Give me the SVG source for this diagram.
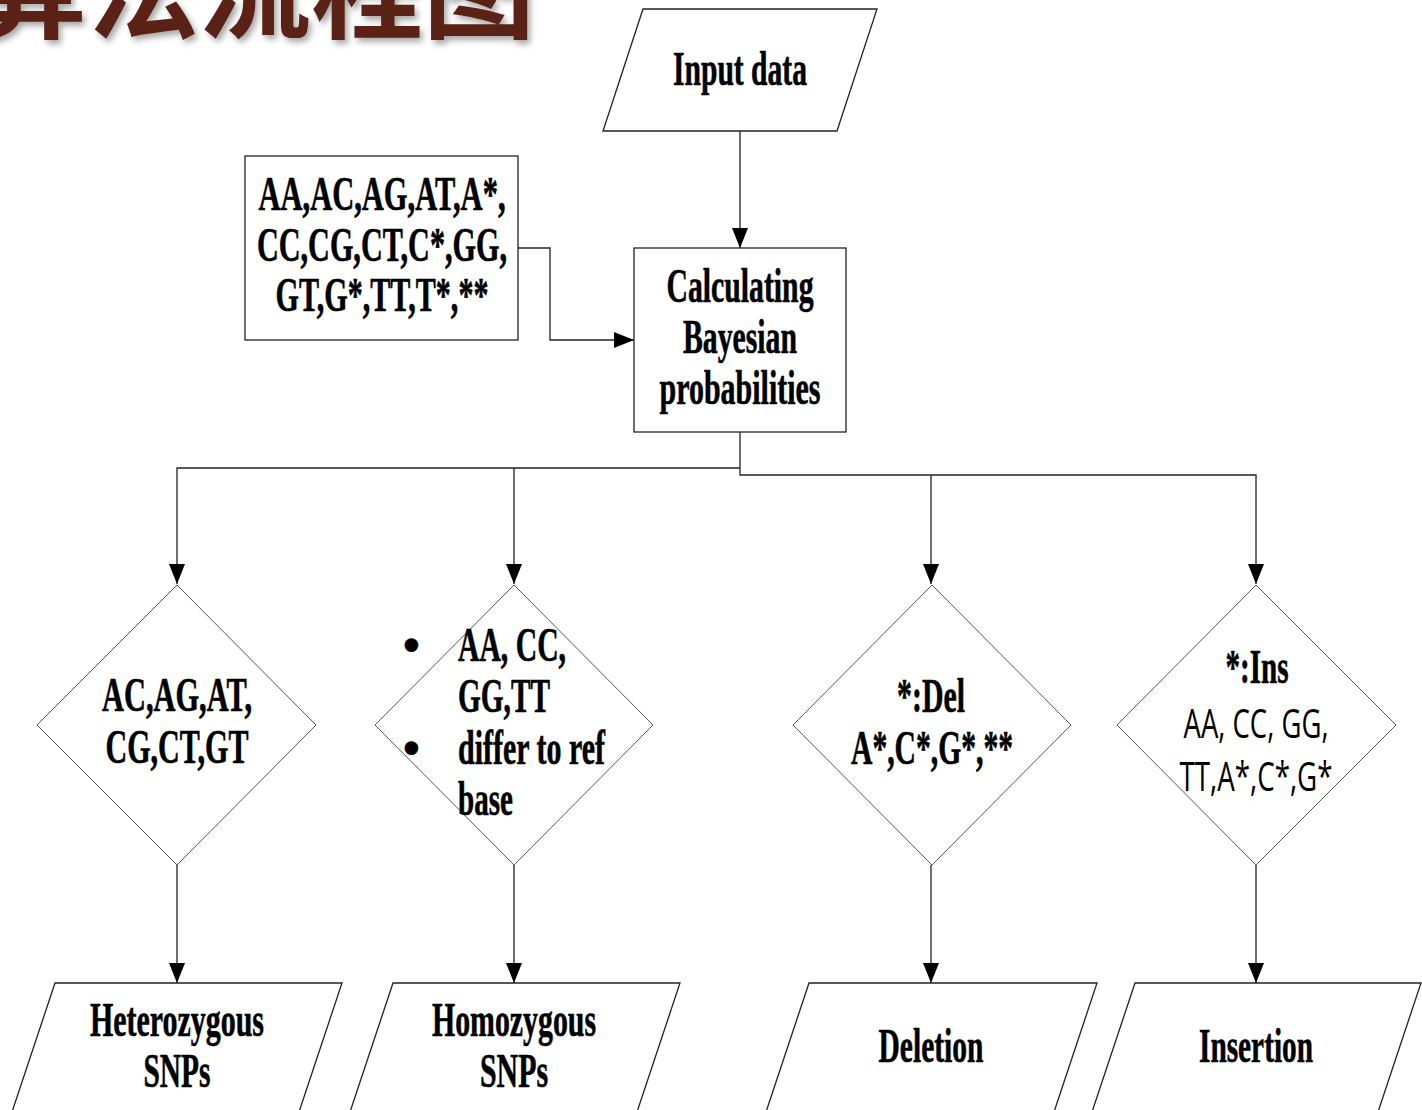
<svg xmlns="http://www.w3.org/2000/svg" width="1422" height="1110" viewBox="0 0 1422 1110">
<style>
.t{font-family:"Liberation Serif","Times New Roman",serif;font-weight:bold;font-size:48px;fill:#000;stroke:#000;stroke-width:0.6;text-anchor:middle}
.l{text-anchor:start}
.s{font-family:"Open Sans","Noto Sans",sans-serif;font-weight:normal;font-size:40px;fill:#000;text-anchor:middle}
.box{fill:#fff;stroke:#222;stroke-width:1.3}
.dia{fill:#fff;stroke:#444;stroke-width:0.9}
.c{fill:none;stroke:#222;stroke-width:1.3}
.title{font-family:"Noto Sans CJK SC",sans-serif;font-weight:bold;font-size:112px;fill:#5a2416}
</style>
<defs>
<marker id="ah" markerUnits="userSpaceOnUse" markerWidth="20" markerHeight="16" refX="20" refY="8" orient="auto">
<path d="M0,0 L20,8 L0,16 z" fill="#000"/>
</marker>
<filter id="sh" x="-10%" y="-30%" width="120%" height="160%">
<feDropShadow dx="3" dy="4" stdDeviation="3" flood-color="#000" flood-opacity="0.35"/>
</filter>
</defs>
<rect width="1422" height="1110" fill="#fff"/>
<g id="title"><text class="title" x="-25" y="30" filter="url(#sh)">算法流程图</text></g>
<g id="connectors">
<path class="c" d="M740,131 V248" marker-end="url(#ah)"/>
<path class="c" d="M518,248 H550 V340 H634" marker-end="url(#ah)"/>
<path class="c" d="M740,432 V475 H1256 V584" marker-end="url(#ah)"/>
<path class="c" d="M740,468 H177 V584" marker-end="url(#ah)"/>
<path class="c" d="M514,468 V584" marker-end="url(#ah)"/>
<path class="c" d="M931,475 V584" marker-end="url(#ah)"/>
<path class="c" d="M177,865 V983" marker-end="url(#ah)"/>
<path class="c" d="M514,865 V983" marker-end="url(#ah)"/>
<path class="c" d="M931,865 V983" marker-end="url(#ah)"/>
<path class="c" d="M1256,865 V983" marker-end="url(#ah)"/>
</g>
<g id="input">
<polygon class="box" points="643,9 877,9 837,131 603,131"/>
<text class="t" x="740" y="85" textLength="134" lengthAdjust="spacingAndGlyphs">Input data</text>
</g>
<g id="bases">
<rect class="box" x="245" y="156" width="273" height="184"/>
<text class="t" x="382" y="210" textLength="247" lengthAdjust="spacingAndGlyphs">AA,AC,AG,AT,A*,</text>
<text class="t" x="382" y="261" textLength="250" lengthAdjust="spacingAndGlyphs">CC,CG,CT,C*,GG,</text>
<text class="t" x="382" y="311" textLength="213" lengthAdjust="spacingAndGlyphs">GT,G*,TT,T*,**</text>
</g>
<g id="calc">
<rect class="box" x="634" y="248" width="212" height="184"/>
<text class="t" x="740" y="302" textLength="147" lengthAdjust="spacingAndGlyphs">Calculating</text>
<text class="t" x="740" y="353" textLength="114" lengthAdjust="spacingAndGlyphs">Bayesian</text>
<text class="t" x="740" y="404" textLength="161" lengthAdjust="spacingAndGlyphs">probabilities</text>
</g>
<g id="d1">
<polygon class="dia" points="177,585 316,725 177,865 37,725"/>
<text class="t" x="177" y="711" textLength="150" lengthAdjust="spacingAndGlyphs">AC,AG,AT,</text>
<text class="t" x="177" y="763" textLength="143" lengthAdjust="spacingAndGlyphs">CG,CT,GT</text>
</g>
<g id="d2">
<polygon class="dia" points="514,585 653,725 514,865 375,725"/>
<text class="t l" x="403" y="661">•</text>
<text class="t l" x="403" y="764">•</text>
<text class="t l" x="458" y="661" textLength="108" lengthAdjust="spacingAndGlyphs">AA, CC,</text>
<text class="t l" x="458" y="712" textLength="92" lengthAdjust="spacingAndGlyphs">GG,TT</text>
<text class="t l" x="458" y="764" textLength="147" lengthAdjust="spacingAndGlyphs">differ to ref</text>
<text class="t l" x="458" y="815" textLength="55" lengthAdjust="spacingAndGlyphs">base</text>
</g>
<g id="d3">
<polygon class="dia" points="932,585 1071,725 932,865 793,725"/>
<text class="t" x="931" y="712" textLength="68" lengthAdjust="spacingAndGlyphs">*:Del</text>
<text class="t" x="932" y="764" textLength="162" lengthAdjust="spacingAndGlyphs">A*,C*,G*,**</text>
</g>
<g id="d4">
<polygon class="dia" points="1256,585 1396,725 1256,865 1117,725"/>
<text class="t" x="1257" y="683" textLength="63" lengthAdjust="spacingAndGlyphs">*:Ins</text>
<text class="s" x="1256" y="738" textLength="145" lengthAdjust="spacingAndGlyphs">AA, CC, GG,</text>
<text class="s" x="1256" y="791" textLength="153" lengthAdjust="spacingAndGlyphs">TT,A*,C*,G*</text>
</g>
<g id="het">
<polygon class="box" points="55,983 342,983 297,1118 10,1118"/>
<text class="t" x="177" y="1036" textLength="174" lengthAdjust="spacingAndGlyphs">Heterozygous</text>
<text class="t" x="177" y="1087" textLength="67" lengthAdjust="spacingAndGlyphs">SNPs</text>
</g>
<g id="hom">
<polygon class="box" points="393,983 680,983 635,1118 348,1118"/>
<text class="t" x="514" y="1036" textLength="164" lengthAdjust="spacingAndGlyphs">Homozygous</text>
<text class="t" x="514" y="1087" textLength="68" lengthAdjust="spacingAndGlyphs">SNPs</text>
</g>
<g id="del">
<polygon class="box" points="809,983 1097,983 1052,1118 764,1118"/>
<text class="t" x="931" y="1062" textLength="105" lengthAdjust="spacingAndGlyphs">Deletion</text>
</g>
<g id="ins">
<polygon class="box" points="1135,983 1421,983 1376,1118 1090,1118"/>
<text class="t" x="1256" y="1062" textLength="114" lengthAdjust="spacingAndGlyphs">Insertion</text>
</g>
</svg>
